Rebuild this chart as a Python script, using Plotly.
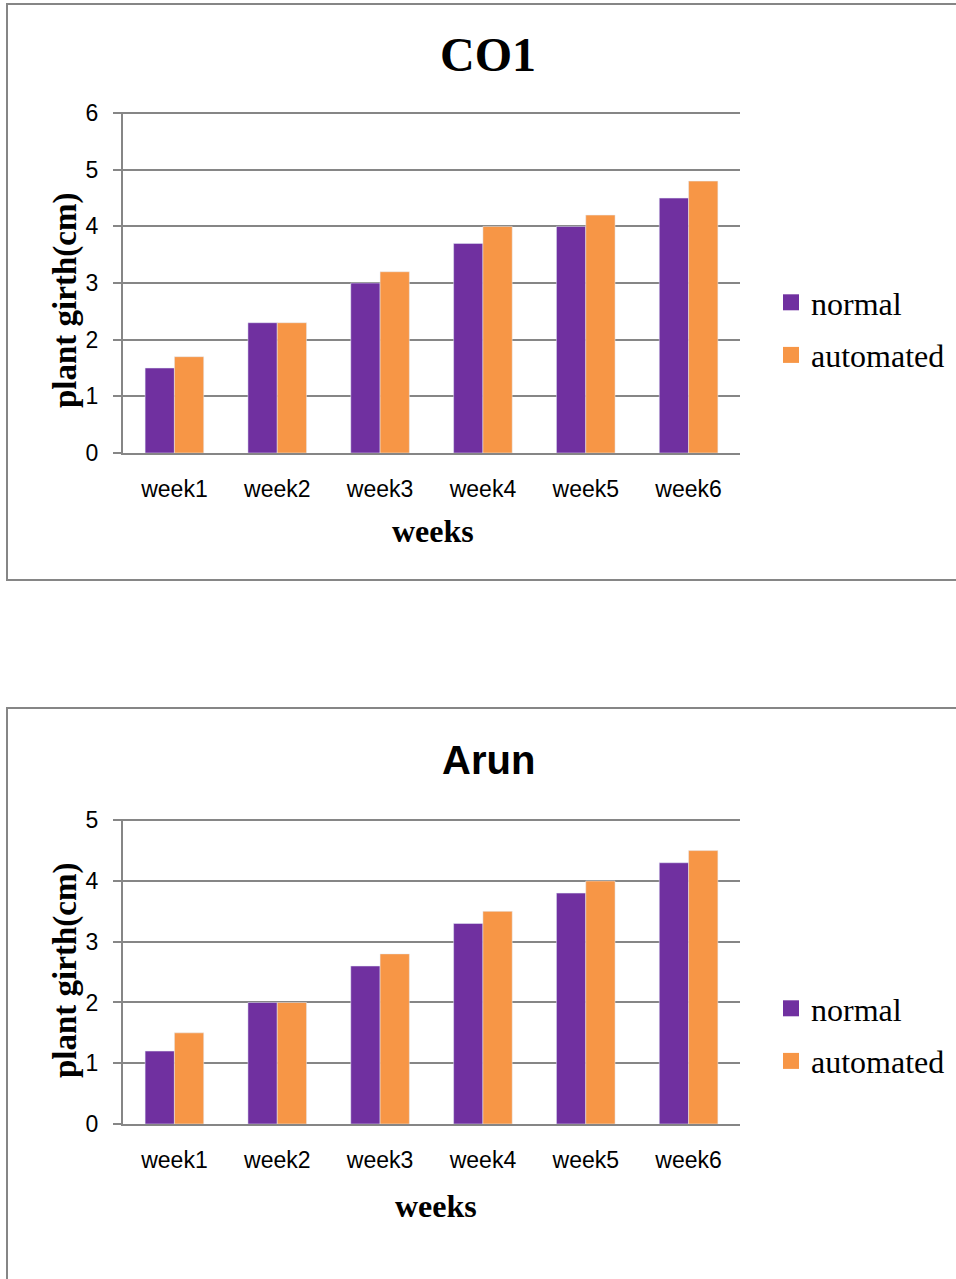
import plotly.graph_objects as go

W, H = 956, 1279

weeks = ["week1", "week2", "week3", "week4", "week5", "week6"]
co1_normal = [1.5, 2.3, 3.0, 3.7, 4.0, 4.5]
co1_automated = [1.7, 2.3, 3.2, 4.0, 4.2, 4.8]
arun_normal = [1.2, 2.0, 2.6, 3.3, 3.8, 4.3]
arun_automated = [1.5, 2.0, 2.8, 3.5, 4.0, 4.5]

PURPLE = "#7030A0"
ORANGE = "#F79646"
GRID = "#868686"
SERIF = "Liberation Serif, Times New Roman, serif"
SANS = "Liberation Sans, Arial, sans-serif"


def px(x):
    return x / W


def py(y):
    return 1 - y / H


fig = go.Figure()

fig.add_trace(go.Bar(x=weeks, y=co1_normal, name="normal", marker_color=PURPLE,
                     showlegend=False, xaxis="x", yaxis="y"))
fig.add_trace(go.Bar(x=weeks, y=co1_automated, name="automated", marker_color=ORANGE,
                     showlegend=False, xaxis="x", yaxis="y"))
fig.add_trace(go.Bar(x=weeks, y=arun_normal, name="normal", marker_color=PURPLE,
                     showlegend=False, xaxis="x2", yaxis="y2"))
fig.add_trace(go.Bar(x=weeks, y=arun_automated, name="automated", marker_color=ORANGE,
                     showlegend=False, xaxis="x2", yaxis="y2"))

for leg, xa, ya in (("legend", "x", "y"), ("legend2", "x2", "y2")):
    for name, col in (("normal", PURPLE), ("automated", ORANGE)):
        fig.add_trace(go.Scatter(x=[None], y=[None], mode="markers", name=name,
                                 marker=dict(symbol="square", size=16, color=col),
                                 legend=leg, legendgroup=leg + name,
                                 xaxis=xa, yaxis=ya))

tickfont = dict(family=SANS, size=23, color="#000000")

common_x = dict(type="category", showgrid=False, showline=True, linecolor=GRID,
                linewidth=2, ticks="", tickfont=tickfont, ticklabelstandoff=14,
                fixedrange=True, automargin=False)
common_y = dict(showgrid=True, gridcolor=GRID, gridwidth=2, showline=True,
                linecolor=GRID, linewidth=2, ticks="outside", ticklen=8,
                tickcolor=GRID, tickwidth=2, tickfont=tickfont,
                ticklabelstandoff=10, dtick=1, zeroline=False, fixedrange=True,
                automargin=False)

legend_common = dict(font=dict(family=SERIF, size=32, color="#000000"),
                     bgcolor="rgba(0,0,0,0)", borderwidth=0,
                     traceorder="grouped", tracegroupgap=8,
                     xanchor="left", yanchor="middle", itemsizing="trace")

fig.update_layout(
    width=W, height=H,
    margin=dict(l=0, r=0, t=0, b=0, pad=0, autoexpand=False),
    paper_bgcolor="white", plot_bgcolor="white",
    barmode="group", bargap=0.43, bargroupgap=0,
    xaxis=dict(domain=[px(123), px(740)], anchor="y", **common_x),
    yaxis=dict(domain=[py(453), py(112)], anchor="x", range=[0, 6.02], **common_y),
    xaxis2=dict(domain=[px(123), px(740)], anchor="y2", **common_x),
    yaxis2=dict(domain=[py(1124), py(819)], anchor="x2", range=[0, 5.02], **common_y),
    legend=dict(x=px(771), y=py(329), **legend_common),
    legend2=dict(x=px(771), y=py(1035), **legend_common),
    shapes=[
        dict(type="rect", xref="paper", yref="paper", x0=px(7), x1=px(1000),
             y0=py(580), y1=py(4), line=dict(color=GRID, width=2), layer="below"),
        dict(type="rect", xref="paper", yref="paper", x0=px(7), x1=px(1000),
             y0=py(1320), y1=py(708), line=dict(color=GRID, width=2), layer="below"),
    ],
    annotations=[
        dict(text="<b>CO1</b>", x=px(488), y=py(55), xref="paper", yref="paper",
             showarrow=False, xanchor="center", yanchor="middle",
             font=dict(family=SERIF, size=48, color="#000000")),
        dict(text="<b>Arun</b>", x=px(488), y=py(760), xref="paper", yref="paper",
             showarrow=False, xanchor="center", yanchor="middle",
             font=dict(family=SANS, size=40, color="#000000")),
        dict(text="<b>plant girth(cm)</b>", x=px(65), y=py(301), xref="paper",
             yref="paper", showarrow=False, textangle=-90, xanchor="center",
             yanchor="middle", font=dict(family=SERIF, size=33, color="#000000")),
        dict(text="<b>plant girth(cm)</b>", x=px(65), y=py(971), xref="paper",
             yref="paper", showarrow=False, textangle=-90, xanchor="center",
             yanchor="middle", font=dict(family=SERIF, size=33, color="#000000")),
        dict(text="<b>weeks</b>", x=px(433), y=py(531), xref="paper", yref="paper",
             showarrow=False, xanchor="center", yanchor="middle",
             font=dict(family=SERIF, size=32, color="#000000")),
        dict(text="<b>weeks</b>", x=px(436), y=py(1206), xref="paper", yref="paper",
             showarrow=False, xanchor="center", yanchor="middle",
             font=dict(family=SERIF, size=32, color="#000000")),
    ],
)

fig.write_html(
    "out.html",
    config={"displayModeBar": False},
    post_script="document.body.style.margin='0';document.body.style.overflow='hidden';",
)
